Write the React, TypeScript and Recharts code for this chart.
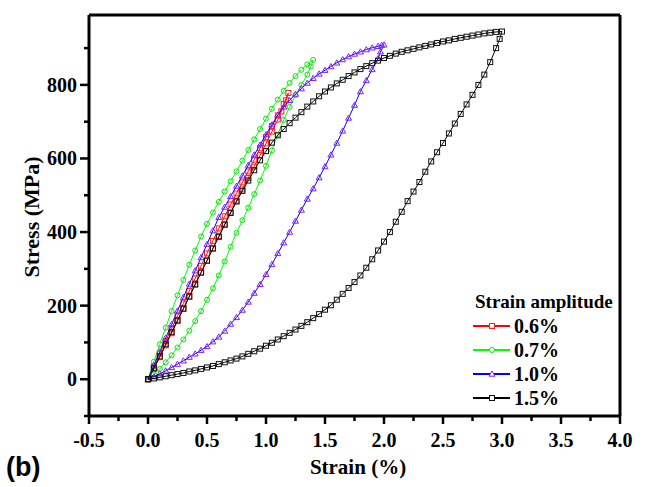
import { ScatterChart, Scatter, XAxis, YAxis, ReferenceLine, Legend } from "recharts"

// strain (%) / stress (MPa) pairs
const load06 = [
  [0, 0], [0.05, 35], [0.1, 70], [0.15, 104], [0.2, 138], [0.25, 172], [0.3, 206], [0.35, 240],
  [0.4, 274], [0.45, 308], [0.5, 342], [0.55, 376], [0.6, 410], [0.65, 443], [0.7, 475], [0.75, 505],
  [0.8, 535], [0.85, 565], [0.9, 597], [0.95, 628], [1.0, 658], [1.05, 688], [1.1, 717], [1.15, 748],
  [1.19, 778],
]
const unload06 = [
  [1.17, 758], [1.13, 728], [1.1, 706], [1.05, 673], [1.0, 641], [0.95, 609], [0.9, 578], [0.85, 547],
  [0.8, 516], [0.75, 485], [0.7, 453], [0.65, 421], [0.6, 389], [0.55, 356], [0.5, 323], [0.45, 290],
  [0.4, 257], [0.35, 224], [0.3, 191], [0.25, 158], [0.2, 125], [0.15, 92], [0.1, 60], [0.05, 28], [0, 0],
]

const load07 = [
  [0, 0], [0.05, 48], [0.1, 95], [0.15, 140], [0.2, 185], [0.25, 228], [0.3, 270], [0.35, 311],
  [0.4, 350], [0.45, 388], [0.5, 422], [0.55, 453], [0.6, 482], [0.65, 510], [0.7, 538], [0.75, 565],
  [0.8, 594], [0.85, 623], [0.9, 652], [0.95, 680], [1.0, 708], [1.05, 735], [1.1, 760], [1.15, 784],
  [1.2, 805], [1.25, 824], [1.3, 841], [1.35, 856], [1.4, 868],
]
const unload07 = [
  [1.38, 850], [1.35, 828], [1.3, 800], [1.25, 772], [1.2, 740], [1.15, 705], [1.1, 665], [1.05, 622],
  [1.0, 580], [0.95, 540], [0.9, 503], [0.85, 466], [0.8, 432], [0.75, 398], [0.7, 360], [0.65, 320],
  [0.6, 282], [0.55, 247], [0.5, 216], [0.45, 185], [0.4, 158], [0.35, 132], [0.3, 108], [0.25, 86],
  [0.2, 65], [0.15, 46], [0.1, 28], [0.05, 13], [0, 0],
]

const load10 = [
  [0, 0], [0.05, 38], [0.1, 75], [0.15, 112], [0.2, 149], [0.25, 186], [0.3, 223], [0.35, 259],
  [0.4, 295], [0.45, 331], [0.5, 367], [0.55, 404], [0.6, 440], [0.65, 468], [0.7, 497], [0.75, 525],
  [0.8, 553], [0.85, 582], [0.9, 610], [0.95, 637], [1.0, 665], [1.05, 692], [1.1, 718], [1.15, 740],
  [1.2, 758], [1.25, 775], [1.3, 790], [1.35, 805], [1.4, 818], [1.45, 830], [1.5, 840], [1.55, 850],
  [1.6, 860], [1.65, 869], [1.7, 877], [1.75, 884], [1.8, 890], [1.85, 896], [1.9, 901], [1.95, 905],
  [1.98, 908], [2.0, 909],
]
const unload10 = [
  [1.97, 890], [1.95, 872], [1.9, 842], [1.85, 812], [1.8, 782], [1.75, 745], [1.7, 710], [1.65, 675],
  [1.6, 642], [1.55, 610], [1.5, 578], [1.45, 548], [1.4, 518], [1.35, 490], [1.3, 460], [1.25, 430],
  [1.2, 400], [1.15, 371], [1.1, 342], [1.05, 312], [1.0, 285], [0.95, 258], [0.9, 234], [0.85, 210],
  [0.8, 188], [0.75, 168], [0.7, 150], [0.65, 131], [0.6, 115], [0.55, 102], [0.5, 89], [0.45, 79],
  [0.4, 69], [0.35, 60], [0.3, 50], [0.25, 41], [0.2, 32], [0.15, 23], [0.1, 15], [0.05, 7], [0, 0],
]

const load15 = [
  [0, 0], [0.05, 30], [0.1, 62], [0.15, 95], [0.2, 128], [0.25, 160], [0.3, 192], [0.35, 225],
  [0.4, 258], [0.45, 290], [0.5, 322], [0.55, 355], [0.6, 387], [0.65, 420], [0.7, 452], [0.75, 483],
  [0.8, 512], [0.85, 540], [0.9, 568], [0.95, 595], [1.0, 620], [1.05, 643], [1.1, 663], [1.15, 680],
  [1.2, 696], [1.25, 711], [1.3, 726], [1.35, 741], [1.4, 755], [1.45, 769], [1.5, 782], [1.55, 793],
  [1.6, 804], [1.65, 814], [1.7, 824], [1.75, 834], [1.8, 843], [1.85, 851], [1.9, 859], [1.95, 866],
  [2.0, 873], [2.05, 879], [2.1, 885], [2.15, 890], [2.2, 894], [2.25, 898], [2.3, 902], [2.35, 906],
  [2.4, 910], [2.45, 914], [2.5, 918], [2.55, 921], [2.6, 925], [2.65, 928], [2.7, 931], [2.75, 934],
  [2.8, 937], [2.85, 940], [2.9, 942], [2.95, 944], [3.0, 945],
]
const unload15 = [
  [2.98, 925], [2.95, 900], [2.9, 862], [2.85, 828], [2.8, 800], [2.75, 773], [2.7, 747], [2.65, 721],
  [2.6, 695], [2.55, 668], [2.5, 642], [2.45, 617], [2.4, 592], [2.35, 564], [2.3, 536], [2.25, 510],
  [2.2, 484], [2.15, 455], [2.1, 428], [2.05, 400], [2.0, 374], [1.95, 350], [1.9, 326], [1.85, 303],
  [1.8, 282], [1.75, 264], [1.7, 248], [1.65, 232], [1.6, 216], [1.55, 201], [1.5, 189], [1.45, 177],
  [1.4, 166], [1.35, 155], [1.3, 145], [1.25, 135], [1.2, 126], [1.15, 117], [1.1, 108], [1.05, 99],
  [1.0, 91], [0.95, 83], [0.9, 76], [0.85, 69], [0.8, 62], [0.75, 56], [0.7, 51], [0.65, 46],
  [0.6, 41], [0.55, 36], [0.5, 32], [0.45, 28], [0.4, 24], [0.35, 21], [0.3, 17], [0.25, 14],
  [0.2, 11], [0.15, 8], [0.1, 5], [0.05, 2], [0, 0],
]

const xTicks = [-0.5, -0.25, 0, 0.25, 0.5, 0.75, 1, 1.25, 1.5, 1.75, 2, 2.25, 2.5, 2.75, 3, 3.25, 3.5, 3.75, 4]
const xLabelTicks = [-0.5, 0, 0.5, 1, 1.5, 2, 2.5, 3, 3.5, 4]
const yTicks = [-100, 0, 100, 200, 300, 400, 500, 600, 700, 800, 900]
const yLabelTicks = [0, 200, 400, 600, 800]

const serif = "Liberation Serif, Tinos, serif"

type Marker = "square" | "circle" | "triangle"

const series = [
  { name: "0.6%", load: load06, unload: unload06, line: "#ff0000", mark: "#ff2020", marker: "square" as Marker },
  { name: "0.7%", load: load07, unload: unload07, line: "#00ff00", mark: "#11e011", marker: "circle" as Marker },
  { name: "1.0%", load: load10, unload: unload10, line: "#0000ff", mark: "#8020ff", marker: "triangle" as Marker },
  { name: "1.5%", load: load15, unload: unload15, line: "#000000", mark: "#111111", marker: "square" as Marker },
]

function markerNode(kind: Marker, cx: number, cy: number, color: string, fill = "none") {
  if (kind === "circle") return <circle cx={cx} cy={cy} r={2.5} fill={fill} stroke={color} strokeWidth={1} />
  if (kind === "triangle")
    return (
      <polygon
        points={`${cx},${cy - 3} ${cx - 3},${cy + 2.2} ${cx + 3},${cy + 2.2}`}
        fill={fill}
        stroke={color}
        strokeWidth={1}
      />
    )
  return <rect x={cx - 2.5} y={cy - 2.5} width={5} height={5} fill={fill} stroke={color} strokeWidth={1} />
}

const labelStyle = { fontFamily: serif, fontWeight: 700 }

function XTick(props: any) {
  const { x, y, payload } = props
  const v = payload.value
  const major = xLabelTicks.includes(v)
  return (
    <g>
      <line x1={x} y1={y} x2={x} y2={y + (major ? 8 : 5)} stroke="#000" strokeWidth={2.5} />
      {major && (
        <text x={x} y={y + 31} textAnchor="middle" style={labelStyle} fontSize={20} fill="#000">
          {v.toFixed(1)}
        </text>
      )}
    </g>
  )
}

function YTick(props: any) {
  const { x, y, payload } = props
  const v = payload.value
  const major = yLabelTicks.includes(v)
  return (
    <g>
      <line x1={x - (major ? 9 : 5)} y1={y} x2={x} y2={y} stroke="#000" strokeWidth={2.5} />
      {major && (
        <text x={x - 12} y={y + 7} textAnchor="end" style={labelStyle} fontSize={20} fill="#000">
          {v}
        </text>
      )}
    </g>
  )
}

function LegendBox() {
  return (
    <div style={{ ...labelStyle, color: "#000" }}>
      <div style={{ fontSize: 19, lineHeight: "24px", paddingLeft: 5 }}>Strain amplitude</div>
      {series.map((s) => (
        <div key={s.name} style={{ display: "flex", alignItems: "center", height: 24 }}>
          <svg width={44} height={24}>
            <line x1={3} y1={12} x2={40} y2={12} stroke={s.line} strokeWidth={2} />
            {markerNode(s.marker, 22, 12, s.mark, "#fff")}
          </svg>
          <span style={{ fontSize: 20, lineHeight: "24px" }}>{s.name}</span>
        </div>
      ))}
    </div>
  )
}

export default function App() {
  const loops = series.map((s) => ({
    ...s,
    points: [...s.load, ...s.unload].map(([x, y]) => ({ x, y })),
  }))

  return (
    <div style={{ position: "absolute", left: 0, top: 0, background: "#fff" }}>
      <ScatterChart width={647} height={487} margin={{ top: 15, right: 27, left: 0, bottom: 0 }}>
        <XAxis
          type="number"
          dataKey="x"
          domain={[-0.5, 4]}
          ticks={xTicks}
          interval={0}
          allowDataOverflow
          height={71}
          tickSize={0}
          tickMargin={0}
          tickLine={false}
          tick={<XTick />}
          axisLine={{ stroke: "#000", strokeWidth: 3 }}
          label={{
            content: () => (
              <text x={358} y={474} textAnchor="middle" style={labelStyle} fontSize={21} fill="#000">
                Strain (%)
              </text>
            ),
          }}
        />
        <YAxis
          type="number"
          dataKey="y"
          domain={[-100, 990]}
          ticks={yTicks}
          interval={0}
          allowDataOverflow
          width={89}
          tickSize={0}
          tickMargin={0}
          tickLine={false}
          tick={<YTick />}
          axisLine={{ stroke: "#000", strokeWidth: 3 }}
          label={{
            content: () => (
              <text
                x={31}
                y={217}
                transform="rotate(-90 31 217)"
                textAnchor="middle"
                dominantBaseline="central"
                style={labelStyle}
                fontSize={22}
                fill="#000"
              >
                Stress (MPa)
              </text>
            ),
          }}
        />
        <ReferenceLine y={990} stroke="#000" strokeWidth={3} />
        <ReferenceLine x={4} stroke="#000" strokeWidth={3} />
        {loops.map((s) => (
          <Scatter
            key={s.name}
            name={s.name}
            data={s.points}
            line={{ stroke: s.line, strokeWidth: 1 }}
            shape={(p: any) => markerNode(s.marker, p.cx, p.cy, s.mark)}
            isAnimationActive={false}
          />
        ))}
        <Legend
          layout="vertical"
          align="center"
          verticalAlign="middle"
          content={() => <LegendBox />}
          wrapperStyle={{ left: 470, top: 290, width: 170 }}
        />
      </ScatterChart>
      <div
        style={{
          position: "absolute",
          left: 6,
          top: 452,
          fontFamily: "Liberation Sans, Arial, sans-serif",
          fontWeight: 700,
          fontSize: 27,
          lineHeight: "30px",
        }}
      >
        (b)
      </div>
    </div>
  )
}
